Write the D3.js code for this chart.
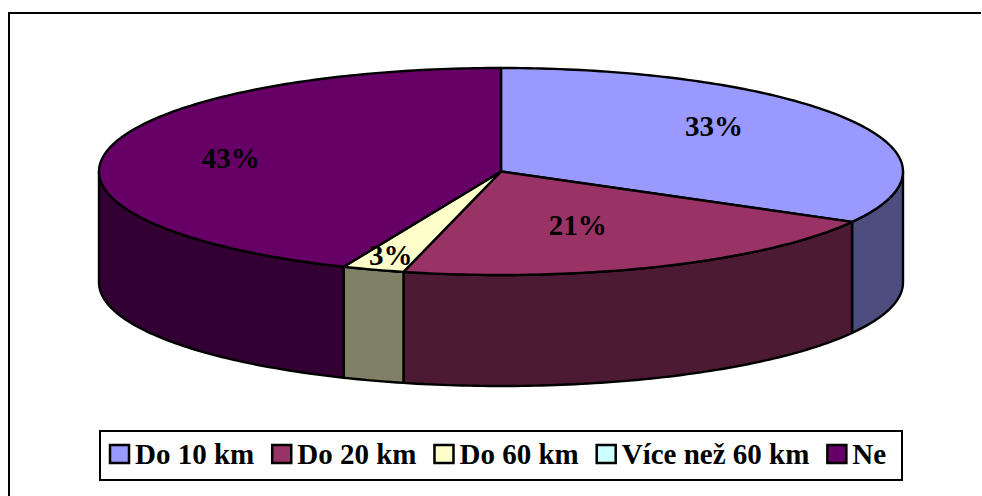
<!DOCTYPE html>
<meta charset="utf-8">
<style>
html, body { margin: 0; background: #fff; }
svg { display: block; }
text { font-family: "Liberation Serif", serif; font-weight: bold; fill: #000; }
</style>
<svg width="982" height="496"></svg>
<script src="https://d3js.org/d3.v7.min.js"></script>
<script>

var categories = ["Do 10 km", "Do 20 km", "Do 60 km", "Více než 60 km", "Ne"];
var shares = [33.1, 20.8, 2.5, 0, 43.6];
var shareLabels = ["33%", "21%", "3%", "", "43%"];
var topColors = ["#9999ff", "#993366", "#ffffcc", "#ccffff", "#660066"];
var sideColors = ["#4d4d80", "#4d1a33", "#808066", "#668080", "#330033"];

var svg = d3.select("svg");

// the frame only shows on the top and left edges
svg.append("path")
    .attr("d", "M9,496V13H981")
    .attr("fill", "none").attr("stroke", "#000").attr("stroke-width", 2);

// unit circle -> flattened ellipse
var x = d3.scaleLinear().domain([-1, 1]).range([99, 903]);
var y = d3.scaleLinear().domain([-1, 1]).range([68, 275]);
var depth = 111;

var pie = d3.pie().sort(null).value(function(d) { return d; });
var slices = pie(shares);

function px(a) { return x(Math.sin(a)); }
function py(a) { return y(-Math.cos(a)); }

var rim = d3.line()
    .x(function(a) { return px(a); })
    .y(function(a) { return py(a); });

function samples(a0, a1) {
  var n = Math.max(2, Math.ceil((a1 - a0) * 60));
  return d3.range(n + 1).map(function(i) { return a0 + (a1 - a0) * i / n; });
}

// side walls, only the front half of the disc shows
var walls = svg.append("g").attr("stroke", "#000").attr("stroke-width", 2.4).attr("stroke-linejoin", "round");
slices.forEach(function(s, i) {
  var a0 = Math.max(s.startAngle, Math.PI / 2);
  var a1 = Math.min(s.endAngle, Math.PI * 1.5);
  if (a1 <= a0) return;
  var pts = samples(a0, a1);
  var top = rim(pts);
  var bottom = rim.y(function(a) { return py(a) + depth; })(pts.slice().reverse());
  rim.y(function(a) { return py(a); });
  walls.append("path")
      .attr("d", top + "L" + bottom.slice(1) + "Z")
      .attr("fill", sideColors[i]);
});

// top face
var faces = svg.append("g").attr("stroke", "#000").attr("stroke-width", 2.4).attr("stroke-linejoin", "round");
slices.forEach(function(s, i) {
  if (s.endAngle <= s.startAngle) return;
  faces.append("path")
      .attr("d", "M" + x(0) + "," + y(0) + "L" + rim(samples(s.startAngle, s.endAngle)).slice(1) + "Z")
      .attr("fill", topColors[i]);
});

// percent labels, nudged off the radial spot like the original
var nudge = [[5, -14], [-19, -3], [1, -2], [0, 0], [-34, -1]];
slices.forEach(function(s, i) {
  if (s.endAngle <= s.startAngle) return;
  var mid = (s.startAngle + s.endAngle) / 2;
  var r = i == 2 ? 0.87 : 0.6;
  svg.append("text")
      .attr("x", x(Math.sin(mid) * r) + nudge[i][0])
      .attr("y", y(-Math.cos(mid) * r) + 10 + nudge[i][1])
      .attr("text-anchor", "middle")
      .attr("font-size", 29)
      .text(shareLabels[i]);
});

// legend
var legend = svg.append("g");
legend.append("rect")
    .attr("x", 100).attr("y", 431)
    .attr("width", 802).attr("height", 49)
    .attr("fill", "#fff").attr("stroke", "#000").attr("stroke-width", 2);

var cursor = 110;
categories.forEach(function(c, i) {
  legend.append("rect")
      .attr("x", cursor).attr("y", 445)
      .attr("width", 19).attr("height", 18)
      .attr("fill", topColors[i]).attr("stroke", "#000").attr("stroke-width", 2.5);
  var t = legend.append("text")
      .attr("x", cursor + 25).attr("y", 464)
      .attr("font-size", 29)
      .text(c);
  cursor += 25 + t.node().getComputedTextLength() + 18;
});

</script>
